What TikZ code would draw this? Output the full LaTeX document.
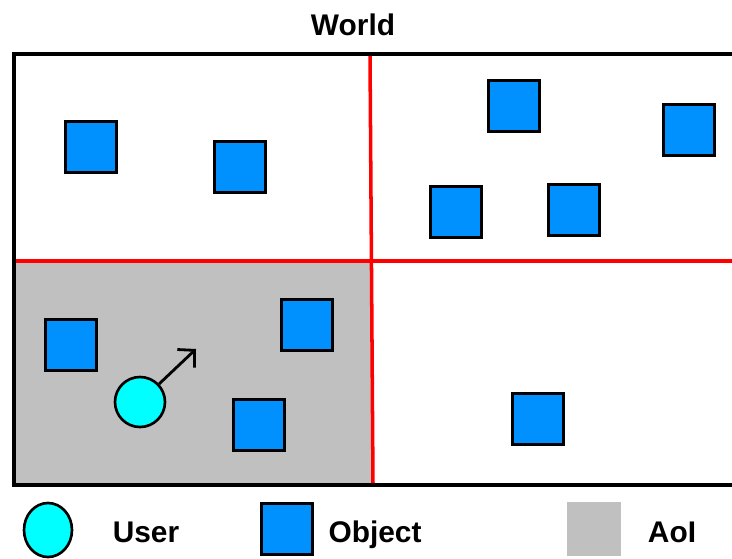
\documentclass[tikz,border=0pt]{standalone}
\usepackage{fontspec}
\setmainfont{Liberation Sans}
\usetikzlibrary{shapes.geometric, arrows.meta}

\definecolor{objblue}{RGB}{0,145,255}
\definecolor{usrcyan}{RGB}{0,255,255}
\definecolor{aoigray}{RGB}{192,192,192}

\begin{document}
\begin{tikzpicture}[>={Straight Barb[length=2.4mm, width=5mm]}, x=0.02cm, y=-0.02cm,
  obj/.style={draw, line width=1.5pt, fill=objblue, minimum size=1.02cm, inner sep=0pt},
  usr/.style={draw, line width=1.5pt, fill=usrcyan, circle, minimum size=1.0cm, inner sep=0pt},
  lbl/.style={font=\bfseries\fontsize{17}{20}\selectfont, anchor=base}]
  \useasboundingbox (0,0) rectangle (732,558);
  % area of interest and the quadrant borders
  \fill [aoigray] (14,261) rectangle (372,485);
  \draw [red, line width=2pt] (370,56) -- (373,485);
  \draw [red, line width=2pt] (14,261) -- (740,261);
  \draw [line width=1.8pt] (740,54) -- (14,54) -- (14,485) -- (740,485);
  \node (title) at (353,35) [lbl] {World};
  % objects
  \node (objA) at (91,147) [obj] {};
  \node (objB) at (240,167) [obj] {};
  \node (objC) at (514,106) [obj] {};
  \node (objD) at (689,130) [obj] {};
  \node (objE) at (456,212) [obj] {};
  \node (objF) at (574,210) [obj] {};
  \node (objG) at (71,345) [obj] {};
  \node (objH) at (307,325) [obj] {};
  \node (objI) at (259,425) [obj] {};
  \node (objJ) at (538,419) [obj] {};
  % user and its heading
  \node (user) at (140,402) [usr] {};
  \coordinate (aim) at (196,349);
  \draw [line width=1.6pt, ->] (user) -- (aim);
  % legend
  \node (keyuser) at (48,530) [draw, line width=1.5pt, fill=usrcyan, ellipse, minimum width=0.96cm, minimum height=1.08cm, inner sep=0pt] {};
  \node (txtuser) at (146,542) [lbl] {User};
  \node (keyobj) at (287,529) [obj] {};
  \node (txtobj) at (375,542) [lbl] {Object};
  \node (keyaoi) at (594,529) [fill=aoigray, minimum size=1.08cm, inner sep=0pt] {};
  \node (txtaoi) at (672,542) [lbl] {AoI};
\end{tikzpicture}
\end{document}
